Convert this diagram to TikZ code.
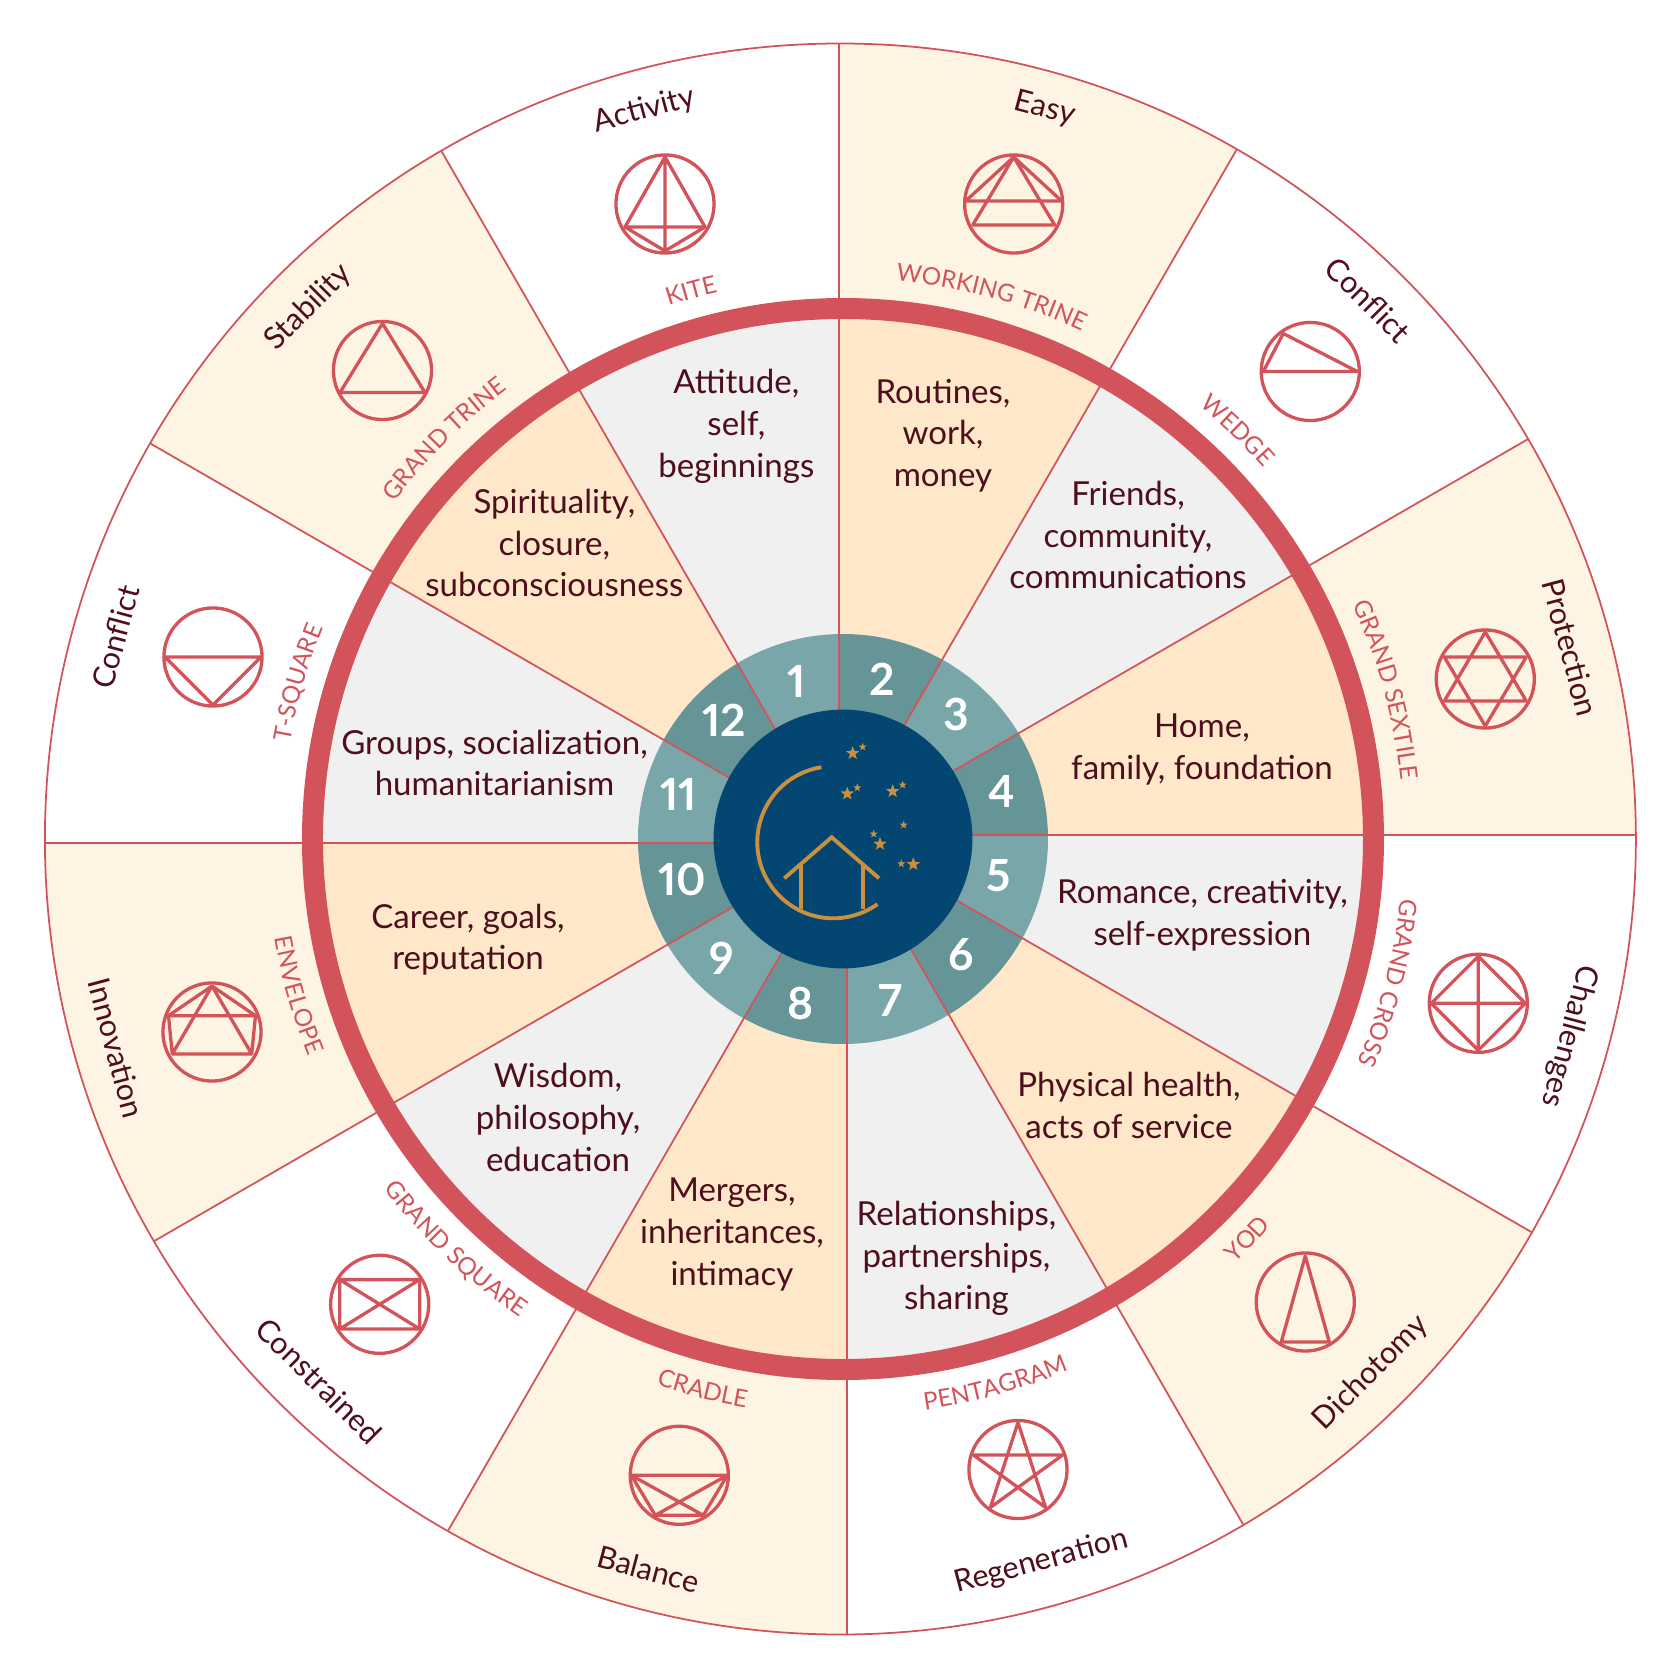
\documentclass[tikz,border=0pt]{standalone}
\usepackage{fontspec}
\setmainfont{Lato}[Numbers=Proportional]
\usetikzlibrary{shapes.geometric,decorations.text}

\definecolor{sectororange}{HTML}{FEE8C9}
\definecolor{sectorcream}{HTML}{FEF4E3}
\definecolor{sectorgray}{HTML}{F0F0F1}
\definecolor{aspectred}{HTML}{D2545A}
\definecolor{houselight}{HTML}{79A6A9}
\definecolor{housedark}{HTML}{669597}
\definecolor{hubblue}{HTML}{034672}
\definecolor{icongold}{HTML}{C9913F}
\definecolor{wheeltext}{HTML}{4E0E1C}

\newcommand{\labelfont}{\fontsize{6.9}{8}\selectfont}
% curved labels: \labelcw{angle}{text} reads clockwise, \labelccw{angle}{text} the other way
\newcommand{\labelcw}[2]{\path[decorate,decoration={text along path,text align=center,text={|\labelfont\color{aspectred}|#2}}] (#1+30:561) arc[start angle=#1+30,end angle=#1-30,radius=561];}
\newcommand{\labelccw}[2]{\path[decorate,decoration={text along path,text align=center,text={|\labelfont\color{aspectred}|#2}}] (#1-30:577) arc[start angle=#1-30,end angle=#1+30,radius=577];}

\tikzset{
    housetext/.style={text=wheeltext,align=center,font=\fontsize{9.4}{11.9}\selectfont},
    aspectword/.style={text=wheeltext,font=\fontsize{8.7}{11}\selectfont},
    housenum/.style={text=white,font=\fontsize{12.6}{13}\bfseries\selectfont},
    aspectring/.style={circle,draw=aspectred,line width=0.94pt,minimum size=27.9pt,inner sep=0pt},
    aspectline/.style={draw=aspectred,line width=0.94pt,line join=round},
    spoke/.style={draw=aspectred,line width=0.5pt},
    iconline/.style={draw=icongold,line width=1.1pt},
    bigstar/.style={star,star points=5,star point ratio=2.4,fill=icongold,inner sep=0pt,minimum size=4pt},
    smallstar/.style={star,star points=5,star point ratio=2.4,fill=icongold,inner sep=0pt,minimum size=2.4pt}
}

\begin{document}
\begin{tikzpicture}[x=0.01cm,y=0.01cm]
    \useasboundingbox (-843,-839) rectangle (829,839);

    % outer ring of sectors
    \begin{scope}
        \clip (-2.6,0) circle[radius=795.5];
        \foreach \a/\col in {90/sectorcream,60/white,30/sectorcream,0/white,-30/sectorcream,-60/white,-90/sectorcream,-120/white,-150/sectorcream,-180/white,-210/sectorcream,-240/white} {
            \fill[\col] ([rotate=\a]0,3.8) -- ([rotate=\a]900,3.8) -- ([rotate=\a-15]1100,0) -- ([rotate=\a-30]900,3.8) -- ([rotate=\a-30]0,3.8) -- cycle;
        }
        \foreach \a in {0,30,...,330} {
            \draw[spoke] ([rotate=\a]530,3.8) -- ([rotate=\a]820,3.8);
        }
    \end{scope}
    \draw[spoke] (-2.6,0) circle[radius=795.5];

    % house topics
    \begin{scope}
        \clip (0,0) circle[radius=531];
        \foreach \a/\col in {90/sectororange,60/sectorgray,30/sectororange,0/sectorgray,-30/sectororange,-60/sectorgray,-90/sectororange,-120/sectorgray,-150/sectororange,-180/sectorgray,-210/sectororange,-240/sectorgray} {
            \fill[\col] ([rotate=\a]0,3.8) -- ([rotate=\a]700,3.8) -- ([rotate=\a-15]800,0) -- ([rotate=\a-30]700,3.8) -- ([rotate=\a-30]0,3.8) -- cycle;
        }
    \end{scope}

    % house numbers ring
    \begin{scope}
        \clip (0,0) circle[radius=205];
        \foreach \a/\col in {90/housedark,60/houselight,30/housedark,0/houselight,-30/housedark,-60/houselight,-90/housedark,-120/houselight,-150/housedark,-180/houselight,-210/housedark,-240/houselight} {
            \fill[\col] ([rotate=\a]0,3.8) -- ([rotate=\a]300,3.8) -- ([rotate=\a-15]340,0) -- ([rotate=\a-30]300,3.8) -- ([rotate=\a-30]0,3.8) -- cycle;
        }
    \end{scope}
    \foreach \a in {0,30,...,330} {
        \draw[spoke] ([rotate=\a]100,3.8) -- ([rotate=\a]531,3.8);
    }

    \draw[aspectred,line width=5.97pt] (0,0) circle[radius=530.5];
    \node[circle,fill=hubblue,minimum size=73.6pt,inner sep=0pt] (hub) at (0,0) {};

    \node[housenum] (h1) at (-46,158) {1};
    \node[housenum] (h2) at (39.3,160) {2};
    \node[housenum] (h3) at (113.7,125) {3};
    \node[housenum] (h4) at (158.7,48) {4};
    \node[housenum] (h5) at (155.3,-37) {5};
    \node[housenum] (h6) at (118,-116) {6};
    \node[housenum] (h7) at (47.7,-161.7) {7};
    \node[housenum] (h8) at (-42,-164.3) {8};
    \node[housenum] (h9) at (-121.3,-119.3) {9};
    \node[housenum] (h10) at (-160.7,-40.3) {10};
    \node[housenum] (h11) at (-164.7,44.3) {11};
    \node[housenum] (h12) at (-118.7,119) {12};

    \node[housetext] (t1) at (-106.6,412.5) {Attitude,\\self,\\beginnings};
    \node[housetext] (t2) at (100,403.4) {Routines,\\work,\\money};
    \node[housetext] (t3) at (285,304) {Friends,\\community,\\communications};
    \node[housetext] (t4) at (359,89.2) {Home,\\family, foundation};
    \node[housetext] (t5) at (359.5,-76.2) {Romance, creativity,\\self-expression};
    \node[housetext] (t6) at (286,-266.5) {Physical health,\\acts of service};
    \node[housetext] (t7) at (113.5,-419.2) {Relationships,\\partnerships,\\sharing};
    \node[housetext] (t8) at (-111,-395.2) {Mergers,\\inheritances,\\intimacy};
    \node[housetext] (t9) at (-285,-278.5) {Wisdom,\\philosophy,\\education};
    \node[housetext] (t10) at (-375,-100.7) {Career, goals,\\reputation};
    \node[housetext] (t11) at (-348.5,76) {Groups, socialization,\\humanitarianism};
    \node[housetext] (t12) at (-288.6,296) {Spirituality,\\closure,\\subconsciousness};

    % what each aspect stands for
    \node[aspectword,rotate=15] (activity) at (-198.6,728.7) {Activity};
    \node[aspectword,rotate=-15] (easy) at (201.7,730) {Easy};
    \node[aspectword,rotate=-45] (conflicte) at (525,539.3) {Conflict};
    \node[aspectword,rotate=-75] (protection) at (727.3,191.4) {Protection};
    \node[aspectword,rotate=-105] (challenges) at (726,-197) {Challenges};
    \node[aspectword,rotate=45] (dichotomy) at (528,-534) {Dichotomy};
    \node[aspectword,rotate=15] (regeneration) at (198.5,-722.7) {Regeneration};
    \node[aspectword,rotate=-15] (balance) at (-194.3,-730) {Balance};
    \node[aspectword,rotate=-45] (constrained) at (-524,-541.8) {Constrained};
    \node[aspectword,rotate=-75] (innovation) at (-726.5,-209) {Innovation};
    \node[aspectword,rotate=75] (conflictw) at (-727.4,202) {Conflict};
    \node[aspectword,rotate=45] (stability) at (-534.7,531.8) {Stability};

    \labelcw{105.5}{KITE}
    \labelcw{74.7}{WORKING TRINE}
    \labelcw{46}{WEDGE}
    \labelcw{15.4}{GRAND SEXTILE}
    \labelcw{-14.8}{GRAND CROSS}
    \labelccw{-44.7}{YOD}
    \labelccw{-74.4}{PENTAGRAM}
    \labelccw{255.7}{CRADLE}
    \labelccw{226.6}{GRAND SQUARE}
    \labelccw{196}{ENVELOPE}
    \labelcw{164}{T-SQUARE}
    \labelcw{134.9}{GRAND TRINE}

    % aspect symbols
    \node[aspectring] (kite) at (-178,635) {};
    \draw[aspectline,shift={(kite.center)}] (0,47) -- (-40,-23) -- (40,-23) -- cycle (0,47) -- (0,-47) (-40,-23) -- (0,-47) -- (40,-23);

    \node[aspectring] (trine) at (170.7,635) {};
    \draw[aspectline,shift={(trine.center)}] (0,47) -- (-41,-21) -- (41,-21) -- cycle (0,47) -- (-48,3) -- (48,3) -- cycle;

    \node[aspectring] (wedge) at (467.3,467.5) {};
    \draw[aspectline,shift={(wedge.center)}] (-47,0) -- (47,0) -- (-27,38) -- cycle;

    \node[aspectring] (sextile) at (642.3,160) {};
    \draw[aspectline,shift={(sextile.center)}] (0,47) -- (-41,-22) -- (41,-22) -- cycle (0,-47) -- (-41,22) -- (41,22) -- cycle;

    \node[aspectring] (cross) at (635.3,-164.3) {};
    \draw[aspectline,shift={(cross.center)}] (0,47) -- (47,0) -- (0,-47) -- (-47,0) -- cycle (0,47) -- (0,-47) (-47,0) -- (47,0);

    \node[aspectring] (yod) at (462.3,-463) {};
    \draw[aspectline,shift={(yod.center)}] (0,46) -- (-24,-40) -- (24,-40) -- cycle;

    \node[aspectring] (pentagram) at (175,-630.5) {};
    \draw[aspectline,shift={(pentagram.center)}] (90:47) -- (234:47) -- (18:47) -- (162:47) -- (306:47) -- cycle;

    \node[aspectring] (cradle) at (-163.7,-636.3) {};
    \draw[aspectline,shift={(cradle.center)}] (-48,0) -- (48,0) -- (24,-40) -- (-24,-40) -- cycle (-48,0) -- (24,-40) (48,0) -- (-24,-40);

    \node[aspectring] (square) at (-463.3,-465.3) {};
    \draw[aspectline,shift={(square.center)}] (-40,24.7) -- (40,24.7) -- (40,-24.7) -- (-40,-24.7) -- cycle (-40,24.7) -- (40,-24.7) (40,24.7) -- (-40,-24.7);

    \node[aspectring] (envelope) at (-631,-193) {};
    \draw[aspectline,shift={(envelope.center)}] (0,46) -- (-43.5,16.3) -- (-39.7,-22) -- (39.7,-22) -- (43.5,16.3) -- cycle (-43.5,16.3) -- (43.5,16.3) (-39.7,-22) -- (0,46) -- (39.7,-22);

    \node[aspectring] (tsquare) at (-630,182) {};
    \draw[aspectline,shift={(tsquare.center)}] (-48,0) -- (48,0) -- (0,-48) -- cycle;

    \node[aspectring] (gtrine) at (-460.5,468.5) {};
    \draw[aspectline,shift={(gtrine.center)}] (0,47) -- (-42.5,-22) -- (42.5,-22) -- cycle;

    % house and moon in the hub
    \draw[iconline] (-9.7,-3.3) ++(99:76) arc[start angle=99,end angle=305.5,radius=76];
    \draw[iconline,line join=miter] (-58.7,-39.3) -- (-11.3,1.7) -- (36,-39.3);
    \draw[iconline] (-42,-26) -- (-42,-70.3);
    \draw[iconline] (20,-26) -- (20,-70.3);

    \foreach \n/\x/\y in {1/9.7/85.7,2/4.3/45.3,3/49.7/47.7,4/37/-5,5/70.3/-25.3} {
        \node[bigstar] (bs\n) at (\x,\y) {};
    }
    \foreach \n/\x/\y in {1/19.7/92,2/14.3/51.3,3/59.7/54,4/60.7/14,5/30.7/5,6/58.3/-24.7} {
        \node[smallstar] (ss\n) at (\x,\y) {};
    }
\end{tikzpicture}
\end{document}
